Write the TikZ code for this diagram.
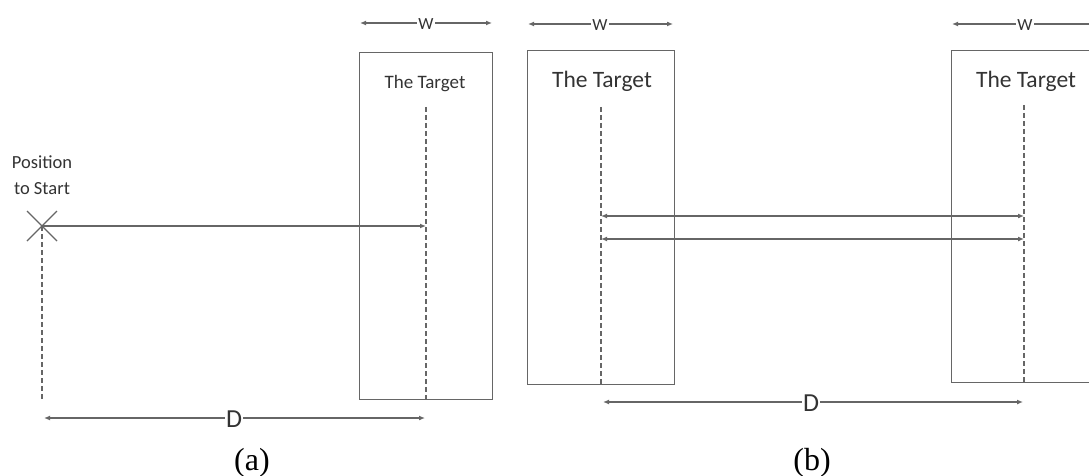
\documentclass[tikz,border=0pt]{standalone}
\usepackage{fontspec}
\setmainfont{Carlito}
\newfontfamily\capfont{Liberation Serif}
\usetikzlibrary{arrows.meta}
\definecolor{lncol}{HTML}{666666}
\definecolor{tx}{HTML}{333333}
\begin{document}
\begin{tikzpicture}[x=1pt,y=-1pt,
  lnst/.style={draw=lncol,line width=1.2pt},
  boxnode/.style={lnst,rectangle,anchor=north west,inner sep=0pt},
  dashln/.style={lnst,dash pattern=on 5pt off 3pt},
  arr/.style={lnst,-{Latex[length=6pt,width=5pt]}},
  darr/.style={lnst,{Latex[length=6pt,width=5pt]}-{Latex[length=6pt,width=5pt]}},
  lbl/.style={text=tx,inner sep=1pt,fill=white},
  tgt/.style={text=tx,inner sep=0pt},
  captxt/.style={text=black,font=\capfont\fontsize{32}{36}\selectfont,inner sep=0pt}]
\useasboundingbox (0,0) rectangle (1089,476);
\clip (0,0) rectangle (1089,476);

% ---------------- (a) ----------------
\coordinate (start) at (42,226);
\coordinate (startbot) at (42,400);
\coordinate (xa) at (27,211);
\coordinate (xb) at (57,241);
\coordinate (xc) at (57,211);
\coordinate (xd) at (27,241);
\draw[lnst] (xa) -- (xb);
\draw[lnst] (xc) -- (xd);
\node[tgt,font=\fontsize{18.5}{26}\selectfont,align=center] (pos) at (42,175) {Position\\to Start};
\draw[dashln] (start) -- (startbot);

\node[boxnode,minimum width=133pt,minimum height=347pt] (ba) at (359,52) {};
\coordinate (datop) at (426,107);
\coordinate (dabot) at (426,399);
\draw[dashln] (datop) -- (dabot);
\node[tgt,font=\fontsize{19}{21}\selectfont] (ta) at (425,84) {The Target};
\coordinate (ahit) at (426,226);
\draw[arr] (start) -- (ahit);

\coordinate (wa1) at (360,23);
\coordinate (wa2) at (492,23);
\draw[darr] (wa1) -- (wa2);
\node[lbl,font=\fontsize{17}{19}\selectfont] (wa) at (426,24) {W};

\coordinate (da1) at (44,418);
\coordinate (da2) at (425,418);
\draw[darr] (da1) -- (da2);
\node[lbl,font=\fontsize{26}{28}\selectfont] (dal) at (234,419) {D};

\node[captxt] (capa) at (252,463) {(a)};

% ---------------- (b) ----------------
\node[boxnode,minimum width=147pt,minimum height=334pt] (bl) at (527,50) {};
\coordinate (dltop) at (601,107);
\coordinate (dlbot) at (601,384);
\draw[dashln] (dltop) -- (dlbot);
\node[tgt,font=\fontsize{23.5}{25}\selectfont] (tl) at (602,81) {The Target};

\node[boxnode,minimum width=160pt,minimum height=332pt] (br) at (951,50) {};
\coordinate (drtop) at (1024,105);
\coordinate (drbot) at (1024,382);
\draw[dashln] (drtop) -- (drbot);
\node[tgt,font=\fontsize{23.5}{25}\selectfont] (tr) at (1026,81) {The Target};

\coordinate (l1) at (601,216);
\coordinate (r1) at (1024,216);
\coordinate (l2) at (601,239);
\coordinate (r2) at (1024,239);
\draw[darr] (l1) -- (r1);
\draw[darr] (l2) -- (r2);

\coordinate (wl1) at (528,24);
\coordinate (wl2) at (673,24);
\draw[darr] (wl1) -- (wl2);
\node[lbl,font=\fontsize{17}{19}\selectfont] (wlb) at (600,25) {W};

\coordinate (wr1) at (952,24);
\coordinate (wr2) at (1098,24);
\draw[darr] (wr1) -- (wr2);
\node[lbl,font=\fontsize{17}{19}\selectfont] (wrb) at (1025,25) {W};

\coordinate (db1) at (603,402);
\coordinate (db2) at (1023,402);
\draw[darr] (db1) -- (db2);
\node[lbl,font=\fontsize{26}{28}\selectfont] (dbl) at (811,403) {D};

\node[captxt] (capb) at (812,463) {(b)};
\end{tikzpicture}
\end{document}
